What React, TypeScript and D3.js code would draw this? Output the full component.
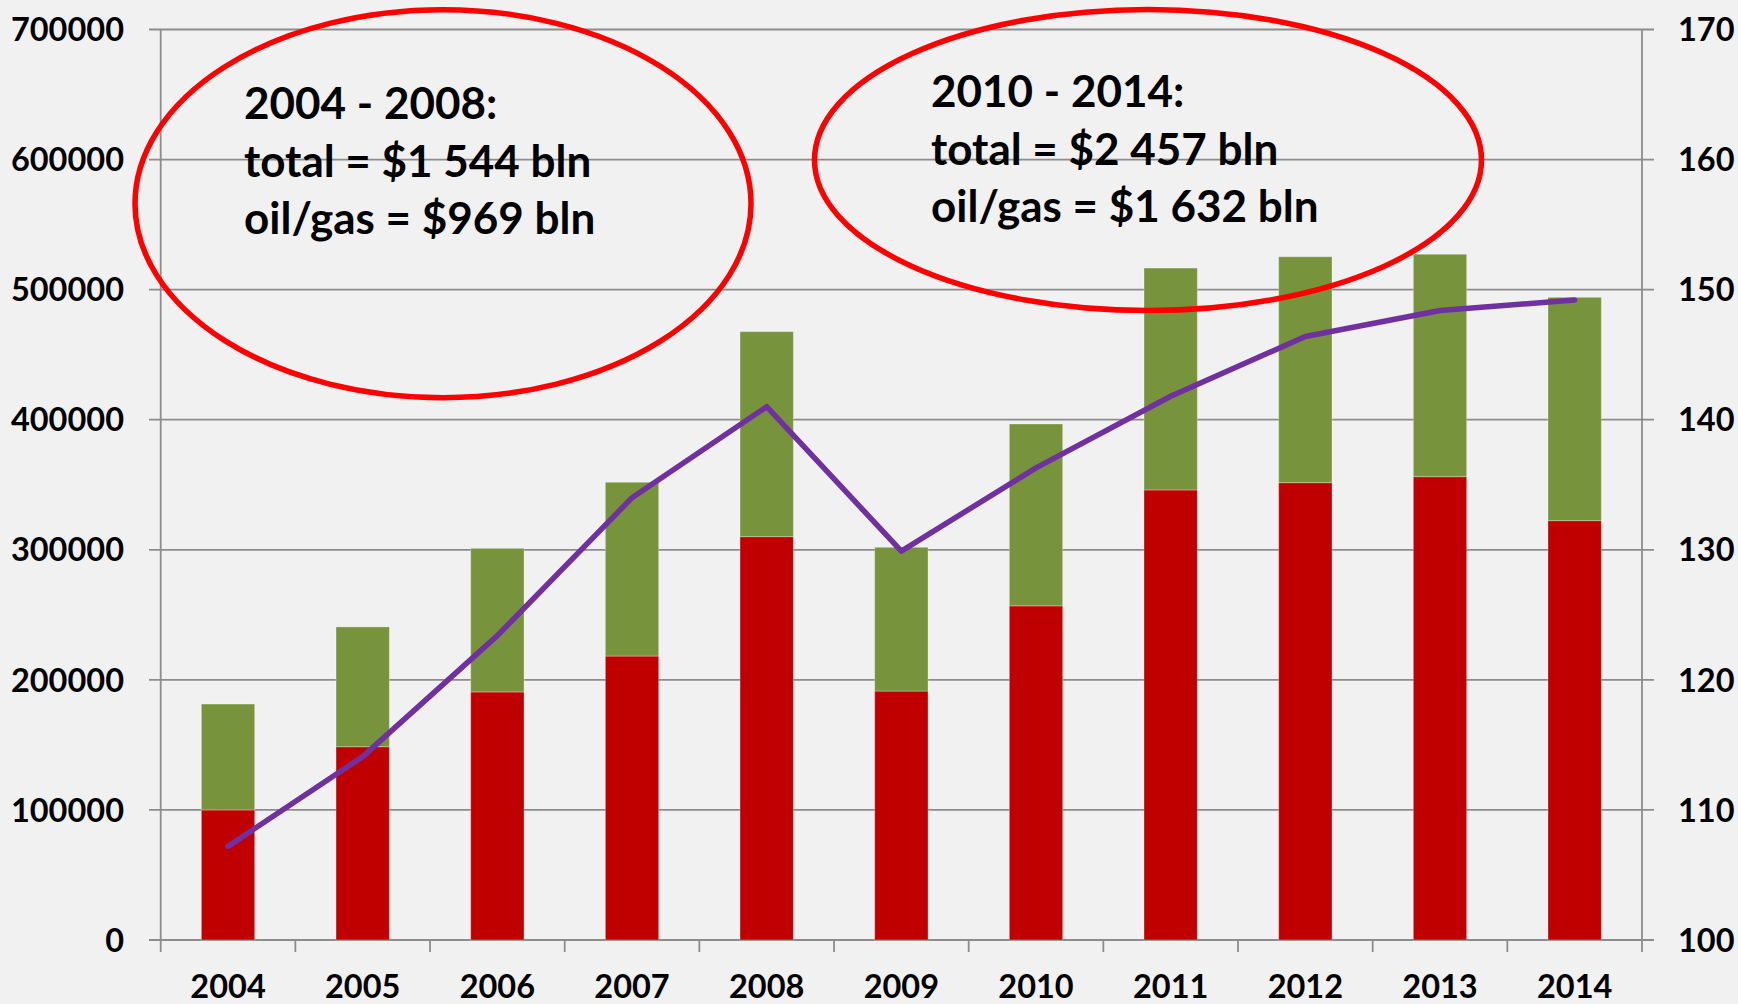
import React from "react";
import * as d3 from "d3";

const years = ["2004", "2005", "2006", "2007", "2008", "2009", "2010", "2011", "2012", "2013", "2014"];
const oilGas = [100000, 148600, 190700, 218300, 310100, 191400, 256900, 346000, 351600, 356200, 322400];
const other = [81400, 92100, 110400, 133600, 157600, 110500, 139800, 170600, 173700, 171000, 171700];
const lineValues = [107.2, 114.1, 123.4, 134.0, 141.0, 129.9, 136.3, 141.8, 146.4, 148.4, 149.2];
const leftTicks = [0, 100000, 200000, 300000, 400000, 500000, 600000, 700000];
const rightTicks = [100, 110, 120, 130, 140, 150, 160, 170];
const note1 = ["2004 - 2008:", "total = $1 544 bln", "oil/gas = $969 bln"];
const note2 = ["2010 - 2014:", "total = $2 457 bln", "oil/gas = $1 632 bln"];

const W = 1738;
const H = 1004;
const L = 160.7;
const R = 1642;
const T = 29.5;
const B = 940;

export default function App() {
  const x = d3.scaleBand<string>().domain(years).range([L, R]).padding(0);
  const y = d3.scaleLinear().domain([0, 700000]).range([B, T]);
  const y2 = d3.scaleLinear().domain([100, 170]).range([B, T]);
  const barW = x.bandwidth() * 0.396;
  const cx = (yr: string) => (x(yr) as number) + x.bandwidth() / 2;

  const line = d3
    .line<number>()
    .x((_, i) => cx(years[i]))
    .y((d) => y2(d));

  const font = "Lato, 'Open Sans', sans-serif";
  const grid = "#8c8c8c";

  return (
    <svg
      width={W}
      height={H}
      style={{ position: "absolute", left: 0, top: 0, display: "block" }}
      fontFamily={font}
      fontWeight={700}
    >
      <rect x={0} y={0} width={W} height={H} fill="#f1f1f1" />
      {leftTicks.map((t) => (
        <line key={"g" + t} x1={149} x2={1654} y1={y(t)} y2={y(t)} stroke={grid} strokeWidth={1.8} />
      ))}
      <line x1={L} x2={L} y1={T} y2={B} stroke={grid} strokeWidth={1.8} />
      <line x1={R} x2={R} y1={T} y2={B} stroke={grid} strokeWidth={1.8} />
      {d3.range(years.length + 1).map((i) => {
        const xx = L + i * x.step();
        return <line key={"xt" + i} x1={xx} x2={xx} y1={B} y2={952} stroke={grid} strokeWidth={1.8} />;
      })}
      {years.map((yr, i) => (
        <g key={"b" + yr}>
          <rect
            x={cx(yr) - barW / 2}
            y={y(oilGas[i])}
            width={barW}
            height={B - y(oilGas[i])}
            fill="#c00000"
            stroke="rgba(255,255,255,0.3)"
            strokeWidth={1}
          />
          <rect
            x={cx(yr) - barW / 2}
            y={y(oilGas[i] + other[i])}
            width={barW}
            height={y(oilGas[i]) - y(oilGas[i] + other[i])}
            fill="#77933c"
            stroke="rgba(255,255,255,0.3)"
            strokeWidth={1}
          />
        </g>
      ))}
      <path
        d={line(lineValues) || ""}
        fill="none"
        stroke="#7030a0"
        strokeWidth={5.5}
        strokeLinecap="round"
        strokeLinejoin="round"
      />
      <ellipse cx={443} cy={203.7} rx={308} ry={194} fill="none" stroke="#ff0000" strokeWidth={5.5} />
      <ellipse cx={1148} cy={160} rx={333.5} ry={150.5} fill="none" stroke="#ff0000" strokeWidth={5.5} />
      {note1.map((s, i) => (
        <text key={"n1" + i} x={244} y={119 + i * 57.5} fontSize={44} fill="#000">
          {s}
        </text>
      ))}
      {note2.map((s, i) => (
        <text key={"n2" + i} x={931} y={107 + i * 57.5} fontSize={44} fill="#000">
          {s}
        </text>
      ))}
      {leftTicks.map((t) => (
        <text key={"lt" + t} x={124} y={y(t)} dy="0.36em" textAnchor="end" fontSize={32.5} fill="#000">
          {t}
        </text>
      ))}
      {rightTicks.map((t) => (
        <text key={"rt" + t} x={1678} y={y2(t)} dy="0.36em" textAnchor="start" fontSize={32.5} fill="#000">
          {t}
        </text>
      ))}
      {years.map((yr) => (
        <text key={"xl" + yr} x={cx(yr)} y={998} textAnchor="middle" fontSize={32.5} fill="#000">
          {yr}
        </text>
      ))}
    </svg>
  );
}
